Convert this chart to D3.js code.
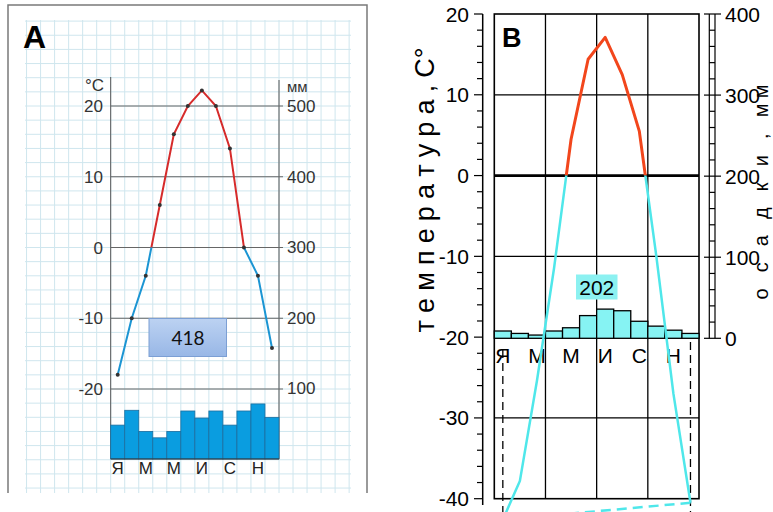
<!DOCTYPE html>
<html>
<head>
<meta charset="utf-8">
<script src="https://cdn.jsdelivr.net/npm/d3@7"></script>
<style>
  body { margin: 0; background: #fff; }
  svg { display: block; }
</style>
</head>
<body>
<div id="chart"></div>
<script>
// Climate diagrams A and B: monthly temperature (line) and precipitation (bars)
const monthLabels = ['Я', 'Ф', 'М', 'А', 'М', 'И', 'И', 'А', 'С', 'О', 'Н', 'Д'];
const shownMonths = [0, 2, 4, 6, 8, 10];

// Panel A
const tempA = [-18, -10, -4, 6, 16, 20, 22.2, 20, 14, 0, -4, -14.2];
const precipA = [48, 69, 39, 30, 39, 68, 58, 68, 48, 68, 78, 59];
const totalA = '418';
const tempTicksA = [-20, -10, 0, 10, 20];
const precipTicksA = [100, 200, 300, 400, 500];

// Panel B
const tempB = [-42.6, -37.8, -25.4, -11.5, 4.5, 14.4, 17.1, 12.5, 5.5, -10, -27, -40.5];
const precipB = [9, 6, 4, 9, 13, 28, 36, 34, 21, 15, 10, 6];
const totalB = '202';
const tempTicksB = [-40, -30, -20, -10, 0, 10, 20];
const precipTicksB = [0, 100, 200, 300, 400];

const W = 773, H = 512;
const SANS = '"Liberation Sans", Arial, sans-serif';
const NARROW = '"Liberation Sans Narrow", "Arial Narrow", "Liberation Sans", sans-serif';

const svg = d3.select('#chart').append('svg')
  .attr('width', W)
  .attr('height', H)
  .style('background', '#fff');
const defs = svg.append('defs');

// clip a line into the part above / below the zero isotherm
function addClip(id, y0, y1) {
  defs.append('clipPath').attr('id', id)
    .append('rect')
    .attr('x', 0).attr('y', y0)
    .attr('width', W).attr('height', y1 - y0);
}

function drawPanelA() {
  const g = svg.append('g');
  const x = d3.scaleBand().domain(d3.range(12)).range([110.7, 279]);
  const yT = d3.scaleLinear().domain([-20, 20]).range([389, 106]);
  const yP = d3.scaleLinear().domain([0, 500]).range([459, 106]);
  const bw = x.bandwidth();
  const cx = i => x(i) + bw / 2;

  // graph paper background
  const gridX = d3.range(-6, 18).map(i => x(0) + i * bw);
  const gridY = d3.range(-34, 33, 2).map(t => yT(t));
  g.selectAll('.gx').data(gridX).enter().append('line')
    .attr('x1', d => d).attr('x2', d => d)
    .attr('y1', 20).attr('y2', 493)
    .attr('stroke', '#cfe6ee').attr('stroke-width', 1);
  g.selectAll('.gy').data(gridY).enter().append('line')
    .attr('x1', 25).attr('x2', 351)
    .attr('y1', d => d).attr('y2', d => d)
    .attr('stroke', '#cfe6ee').attr('stroke-width', 1);

  // frame (open at the bottom)
  g.append('path')
    .attr('d', 'M8,493V5H367V493')
    .attr('fill', 'none').attr('stroke', '#7a7a7a').attr('stroke-width', 1.5);

  // axes
  g.append('line').attr('x1', x(0)).attr('x2', x(0)).attr('y1', 77).attr('y2', yP(0))
    .attr('stroke', '#555').attr('stroke-width', 1);
  g.append('line').attr('x1', x(11) + bw).attr('x2', x(11) + bw).attr('y1', 80).attr('y2', yP(0))
    .attr('stroke', '#555').attr('stroke-width', 1);
  g.selectAll('.hl').data(tempTicksA).enter().append('line')
    .attr('x1', x(0)).attr('x2', x(11) + bw + 4)
    .attr('y1', d => yT(d)).attr('y2', d => yT(d))
    .attr('stroke', '#666').attr('stroke-width', 1);

  // precipitation bars
  g.selectAll('.bar').data(precipA).enter().append('rect')
    .attr('x', (d, i) => x(i))
    .attr('y', d => yP(d))
    .attr('width', bw)
    .attr('height', d => yP(0) - yP(d))
    .attr('fill', '#0a9de0')
    .attr('stroke', '#1c6d9e').attr('stroke-width', 0.8);
  g.append('line').attr('x1', x(0)).attr('x2', x(11) + bw).attr('y1', yP(0)).attr('y2', yP(0))
    .attr('stroke', '#333').attr('stroke-width', 1.2);

  // tick labels
  g.selectAll('.tl').data(tempTicksA).enter().append('text')
    .attr('x', 103).attr('y', d => yT(d) + 6)
    .attr('text-anchor', 'end')
    .attr('font-family', SANS).attr('font-size', 17).attr('fill', '#333')
    .text(d => d);
  g.selectAll('.tr').data(precipTicksA).enter().append('text')
    .attr('x', 287).attr('y', d => yP(d) + 6)
    .attr('font-family', SANS).attr('font-size', 17).attr('fill', '#333')
    .text(d => d);
  g.append('text').attr('x', 104).attr('y', 91).attr('text-anchor', 'end')
    .attr('font-family', SANS).attr('font-size', 17).attr('fill', '#333').text('°C');
  g.append('text').attr('x', 287).attr('y', 92)
    .attr('font-family', SANS).attr('font-size', 15).attr('fill', '#333').text('мм');

  g.selectAll('.ml').data(shownMonths).enter().append('text')
    .attr('x', d => cx(d)).attr('y', 474)
    .attr('text-anchor', 'middle')
    .attr('font-family', SANS).attr('font-size', 17).attr('fill', '#222')
    .text(d => monthLabels[d]);

  // temperature line, red above zero and blue below
  addClip('clipA-warm', 0, yT(0));
  addClip('clipA-cold', yT(0), H);
  const line = d3.line().x((d, i) => cx(i)).y(d => yT(d));
  g.append('path').datum(tempA).attr('d', line)
    .attr('fill', 'none').attr('stroke', '#d62b2b').attr('stroke-width', 2)
    .attr('clip-path', 'url(#clipA-warm)');
  g.append('path').datum(tempA).attr('d', line)
    .attr('fill', 'none').attr('stroke', '#1b95d3').attr('stroke-width', 2)
    .attr('clip-path', 'url(#clipA-cold)');
  g.selectAll('.pt').data(tempA).enter().append('circle')
    .attr('cx', (d, i) => cx(i)).attr('cy', d => yT(d)).attr('r', 2)
    .attr('fill', '#333');

  // annual total box
  const grad = defs.append('linearGradient').attr('id', 'boxGrad')
    .attr('x1', 0).attr('y1', 0).attr('x2', 0).attr('y2', 1);
  grad.append('stop').attr('offset', 0).attr('stop-color', '#bcd2f2');
  grad.append('stop').attr('offset', 1).attr('stop-color', '#98b7e6');
  g.append('rect').attr('x', 149).attr('y', 318.5).attr('width', 77.5).attr('height', 38)
    .attr('fill', 'url(#boxGrad)').attr('stroke', '#7c9fd4').attr('stroke-width', 1);
  g.append('text').attr('x', 188).attr('y', 345).attr('text-anchor', 'middle')
    .attr('font-family', 'Lato, "Open Sans", sans-serif').attr('font-size', 19).attr('fill', '#111')
    .text(totalA);

  g.append('text').attr('x', 23).attr('y', 48)
    .attr('font-family', SANS).attr('font-weight', 'bold').attr('font-size', 32).attr('fill', '#000')
    .text('A');
}

function drawPanelB() {
  const g = svg.append('g');
  const x = d3.scaleBand().domain(d3.range(12)).range([494.3, 699]);
  const yT = d3.scaleLinear().domain([-40, 20]).range([498.7, 14]);
  const yP = d3.scaleLinear().domain([0, 400]).range([338.3, 14]);
  const bw = x.bandwidth();
  const cx = i => x(i) + bw / 2;
  const left = x(0), right = x(11) + bw;

  // left temperature axis with minor ticks every 2 degrees
  g.append('line').attr('x1', 482.7).attr('x2', 482.7).attr('y1', yT(20)).attr('y2', 505)
    .attr('stroke', '#000').attr('stroke-width', 1.5);
  g.selectAll('.tk').data(d3.range(-40, 21, 2)).enter().append('line')
    .attr('x1', d => d % 10 === 0 ? 474 : 477).attr('x2', 482.7)
    .attr('y1', d => yT(d)).attr('y2', d => yT(d))
    .attr('stroke', '#000').attr('stroke-width', 1.2);
  g.selectAll('.tl').data(tempTicksB).enter().append('text')
    .attr('x', 469).attr('y', d => yT(d) + 7.5)
    .attr('text-anchor', 'end')
    .attr('font-family', NARROW).attr('font-size', 21).attr('fill', '#000')
    .text(d => d);

  // right precipitation ruler
  g.selectAll('.rr').data([709.3, 715]).enter().append('line')
    .attr('x1', d => d).attr('x2', d => d).attr('y1', yP(400)).attr('y2', yP(0))
    .attr('stroke', '#000').attr('stroke-width', 1.2);
  g.selectAll('.rt').data(d3.range(0, 401, 20)).enter().append('line')
    .attr('x1', d => d % 100 === 0 ? 704 : 709.3).attr('x2', d => d % 100 === 0 ? 721 : 715)
    .attr('y1', d => yP(d)).attr('y2', d => yP(d))
    .attr('stroke', '#000').attr('stroke-width', 1.2);
  g.selectAll('.rl').data(precipTicksB).enter().append('text')
    .attr('x', 725).attr('y', d => yP(d) + 7.5)
    .attr('font-family', NARROW).attr('font-size', 21).attr('fill', '#000')
    .text(d => d);

  // grid and frame
  const cols = d3.range(1, 4).map(q => x(q * 3));
  g.selectAll('.vc').data(cols).enter().append('line')
    .attr('x1', d => d).attr('x2', d => d).attr('y1', yT(20)).attr('y2', yT(-40))
    .attr('stroke', '#000').attr('stroke-width', 1.3);
  g.selectAll('.hr').data(tempTicksB.slice(1, -1)).enter().append('line')
    .attr('x1', left).attr('x2', right)
    .attr('y1', d => yT(d)).attr('y2', d => yT(d))
    .attr('stroke', '#000').attr('stroke-width', d => d === 0 ? 2.8 : (d === -20 ? 2 : 1.3));
  g.append('rect').attr('x', left).attr('y', yT(20))
    .attr('width', right - left).attr('height', yT(-40) - yT(20))
    .attr('fill', 'none').attr('stroke', '#000').attr('stroke-width', 1.6);

  // precipitation bars
  g.selectAll('.bar').data(precipB).enter().append('rect')
    .attr('x', (d, i) => x(i))
    .attr('y', d => yP(d))
    .attr('width', bw)
    .attr('height', d => yP(0) - yP(d))
    .attr('fill', '#86f3f3')
    .attr('stroke', '#000').attr('stroke-width', 1.3);

  // dashed markers under January and December
  g.selectAll('.dm').data([0, 11]).enter().append('line')
    .attr('x1', d => cx(d)).attr('x2', d => cx(d))
    .attr('y1', d => d === 0 ? 350 : 342).attr('y2', H)
    .attr('stroke', '#000').attr('stroke-width', 1.3)
    .attr('stroke-dasharray', '8,5');

  // month letters
  g.selectAll('.ml').data(shownMonths).enter().append('text')
    .attr('x', d => cx(d)).attr('y', 363)
    .attr('text-anchor', 'middle')
    .attr('font-family', NARROW).attr('font-size', 21).attr('fill', '#000')
    .text(d => monthLabels[d]);

  // temperature line
  addClip('clipB-warm', 0, yT(0));
  addClip('clipB-cold', yT(0), H);
  const line = d3.line().x((d, i) => cx(i)).y(d => yT(d));
  g.append('path').datum(tempB).attr('d', line)
    .attr('fill', 'none').attr('stroke', '#f2461c').attr('stroke-width', 3)
    .attr('stroke-linejoin', 'round')
    .attr('clip-path', 'url(#clipB-warm)');
  g.append('path').datum(tempB).attr('d', line)
    .attr('fill', 'none').attr('stroke', '#4fe7ea').attr('stroke-width', 2.5)
    .attr('clip-path', 'url(#clipB-cold)');
  // December back to January
  g.append('line')
    .attr('x1', cx(11)).attr('y1', yT(tempB[11]))
    .attr('x2', cx(0)).attr('y2', yT(tempB[0]))
    .attr('stroke', '#4fe7ea').attr('stroke-width', 2.5)
    .attr('stroke-dasharray', '10,6');

  // annual total
  g.append('rect').attr('x', 576).attr('y', 274.5).attr('width', 41.5).attr('height', 25)
    .attr('fill', '#8cf1f1');
  g.append('text').attr('x', 596.8).attr('y', 294.5).attr('text-anchor', 'middle')
    .attr('font-family', NARROW).attr('font-size', 21).attr('fill', '#000')
    .text(totalB);

  // axis titles
  g.append('text').attr('transform', 'translate(434,190) rotate(-90)')
    .attr('text-anchor', 'middle')
    .attr('textLength', 285).attr('lengthAdjust', 'spacing')
    .attr('font-family', NARROW).attr('font-size', 27).attr('fill', '#000')
    .text('т е м п е р а т у р а ,  С°');
  g.append('text').attr('transform', 'translate(768,192) rotate(-90)')
    .attr('text-anchor', 'middle')
    .attr('textLength', 215).attr('lengthAdjust', 'spacing')
    .attr('font-family', NARROW).attr('font-size', 20).attr('fill', '#000')
    .text('о с а д к и ,  мм');

  g.append('text').attr('x', 502).attr('y', 47)
    .attr('font-family', SANS).attr('font-weight', 'bold').attr('font-size', 27).attr('fill', '#000')
    .text('B');
}

drawPanelA();
drawPanelB();
</script>
</body>
</html>
